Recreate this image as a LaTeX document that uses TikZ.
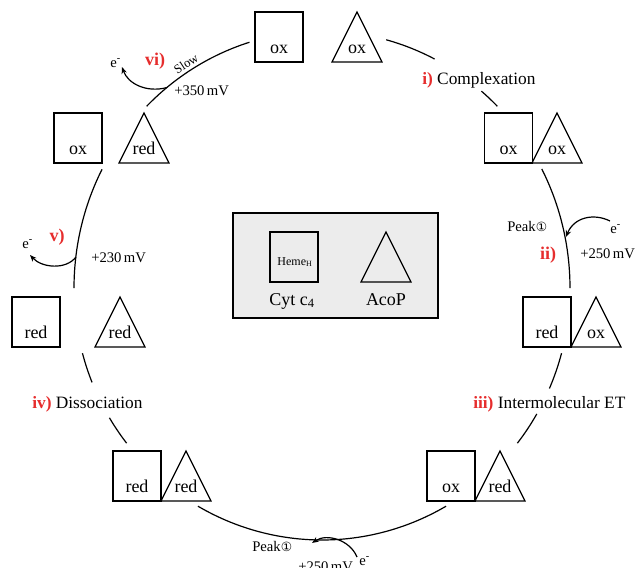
\documentclass[tikz,border=0pt]{standalone}
\usepackage{fontspec}
\setmainfont{Liberation Serif}
\newfontfamily\symfont{DejaVu Sans}
\usetikzlibrary{arrows.meta}
\definecolor{stepred}{RGB}{230,45,45}
\newcommand\sqr[4]{\node[sq] (#1) at (#2,#3+25) {};
  \node[st] (#1t) at (#2,#3+41) {#4};}
\newcommand\trg[4]{\draw[ln,line join=miter] (#2,#3) coordinate (#1) -- (#2+25,#3+50) -- (#2-25,#3+50) -- cycle;
  \node[st] (#1t) at (#2,#3+41) {#4};}
\newcommand\ring[3]{\draw[ln] plot[domain=#1:#2, samples=30, smooth] ({322+248*cos(\x)},{288-#3*sin(\x)});}
\newcommand\peak{Peak{\symfont\fontsize{9.5}{11}\selectfont ①}}
\begin{document}
\begin{tikzpicture}[x=0.75pt,y=-0.75pt,
 ln/.style={line width=0.9pt},
 sq/.style={draw, line width=0.9pt, minimum width=36pt, minimum height=37.5pt, inner sep=0pt},
 st/.style={font=\fontsize{13.5}{15}\selectfont, inner sep=0pt, anchor=base},
 lab/.style={font=\fontsize{13}{15}\selectfont, inner sep=0pt, anchor=base west},
 small/.style={font=\fontsize{11}{13}\selectfont, inner sep=0pt, anchor=base west},
 num/.style={text=stepred, font=\fontsize{13.5}{15}\selectfont\bfseries, inner sep=0pt},
 arr/.style={line width=0.9pt, -{Stealth[length=5pt,width=4pt]}}
]
\useasboundingbox (0,0) rectangle (636,568);

% ring arcs
\ring{107}{135}{257}
\ring{152.5}{180}{257}
\ring{195}{202}{252}
\ring{211}{218}{252}
\ring{240}{300}{252}
\ring{322}{330}{252}
\ring{336.5}{345}{252}
\ring{0}{27.6}{257}
\ring{45}{50}{257}
\ring{63}{75}{257}

% shapes
\sqr{A}{279}{12}{ox}
\trg{B}{357}{12}{ox}
\sqr{C}{508.5}{113}{ox}
\trg{D}{557}{113}{ox}
\sqr{E}{547}{297}{red}
\trg{F}{596}{297}{ox}
\sqr{G}{451}{451}{ox}
\trg{H}{500}{451}{red}
\sqr{I}{137}{451}{red}
\trg{J}{186}{451}{red}
\sqr{K}{36}{297}{red}
\trg{L}{120}{297}{red}
\sqr{M}{78}{113}{ox}
\trg{N}{144}{113}{red}

% legend box
\draw[line width=1.1pt, fill=gray!15] (233,213) rectangle (438,318);
\node[draw, line width=0.9pt, minimum width=36pt, minimum height=37.5pt, inner sep=0pt] (hs) at (294,257) {};
\node[font=\fontsize{9}{10}\selectfont, inner sep=0pt] (ht) at (295,262) {Heme\textsubscript{H}};
\draw[ln,line join=miter] (386,232) coordinate (ha) -- (411,282) -- (361,282) -- cycle;
\node[st] (cyt) at (292,305) {Cyt c\textsubscript{4}};
\node[st] (acop) at (386,305) {AcoP};

% step labels
\node[lab] (l1) at (422,84) {\textcolor{stepred}{\bfseries i)} Complexation};
\node[num] (l2) at (548,255) {ii)};
\node[lab] (l3) at (473,408) {\textcolor{stepred}{\bfseries iii)} Intermolecular ET};
\node[lab] (l4) at (32,408) {\textcolor{stepred}{\bfseries iv)} Dissociation};
\node[num] (l5) at (57,237) {v)};
\node[num] (l6) at (155,61) {vi)};

% potentials and peaks
\node[small] (p6) at (174,95) {+350\,mV};
\node[font=\fontsize{9.5}{11}\selectfont, inner sep=0pt, rotate=33] (slow) at (186,64) {Slow};
\node[small] (p5) at (91,262) {+230\,mV};
\node[small] (p2) at (580,258) {+250\,mV};
\node[small] (k2) at (507,231) {\peak};
\node[small] (k3) at (252,551) {\peak};
\node[small] (p3) at (298,571) {+250\,mV};

% electrons
\node[small] (e6) at (110,67) {e\textsuperscript{-}};
\node[small] (e5) at (22,248) {e\textsuperscript{-}};
\node[small] (e2) at (610,233) {e\textsuperscript{-}};
\node[small] (e3) at (359,565) {e\textsuperscript{-}};

\coordinate (s6) at (167,87.5);
\coordinate (t6) at (122,67);
\coordinate (s5) at (76,257);
\coordinate (t5) at (30,255);
\coordinate (s2) at (610,221);
\coordinate (t2) at (566,237);
\coordinate (s3) at (357,557);
\coordinate (t3) at (312,543);
\draw[arr] (s6) .. controls (147,93) and (128,84) .. (t6);
\draw[arr] (s5) .. controls (66,270) and (42,268) .. (t5);
\draw[arr] (s2) .. controls (594,213) and (574,217) .. (t2);
\draw[arr] (s3) .. controls (350,540) and (327,533) .. (t3);
\end{tikzpicture}
\end{document}
